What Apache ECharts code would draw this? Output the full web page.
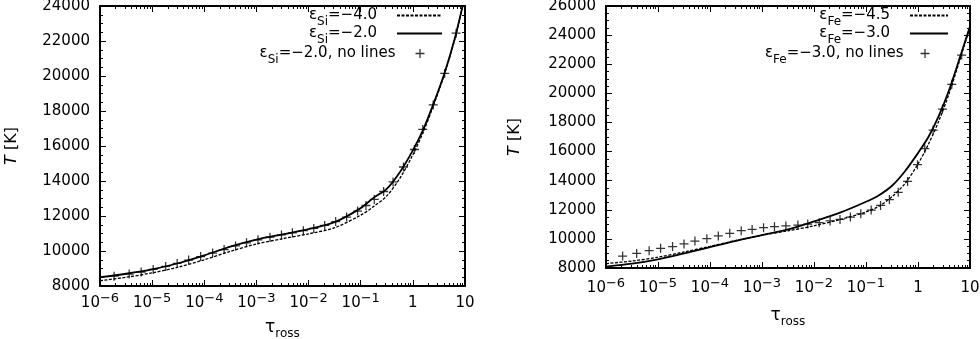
<!DOCTYPE html>
<html>
<head>
    <meta charset="utf-8">
    <title>Temperature structure vs Rosseland optical depth</title>
    <script src="https://cdn.jsdelivr.net/npm/echarts@6/dist/echarts.min.js"></script>
    <style>
        html, body { margin: 0; padding: 0; background: #fff; }
        #main { width: 980px; height: 339px; }
    </style>
</head>
<body>
<div id="main"></div>
<script type="text/javascript">
    // log10(tau_ross) grid of the model curves
    var logTauSi = [-6, -5.5, -5, -4.5, -4, -3.5, -3, -2.5, -2, -1.5, -1, -0.75, -0.5, -0.25, 0, 0.2, 0.4, 0.6, 0.8, 0.97];
    var tSiM40 = [8300, 8500, 8750, 9080, 9500, 9980, 10400, 10700, 10980, 11330, 12050, 12550, 13150, 14150, 15500, 16800, 18350, 20050, 22050, 24200];
    var tSiM20 = [8500, 8700, 8950, 9300, 9750, 10250, 10650, 10950, 11250, 11650, 12450, 13050, 13550, 14500, 15750, 16950, 18450, 20100, 22100, 24200];

    // eps_Si = -2.0 without lines (markers)
    var logTauSiNL = [-5.73, -5.44, -5.21, -4.98, -4.74, -4.52, -4.30, -4.07, -3.84, -3.62, -3.40, -3.19, -2.97, -2.74, -2.52, -2.31, -2.10, -1.90, -1.69, -1.48, -1.27, -1.06, -0.90, -0.74, -0.56, -0.38, -0.18, 0.03, 0.19, 0.39, 0.61, 0.83];
    var tSiNL = [8560, 8680, 8800, 8950, 9120, 9290, 9480, 9680, 9880, 10080, 10290, 10470, 10640, 10790, 10920, 11040, 11160, 11290, 11460, 11680, 11940, 12280, 12600, 12950, 13400, 13950, 14800, 15800, 16950, 18350, 20150, 22450];

    var logTauFe = [-6, -5.5, -5, -4.5, -4, -3.5, -3, -2.5, -2, -1.5, -1, -0.75, -0.5, -0.25, 0, 0.2, 0.4, 0.6, 0.8, 1.0];
    var tFeM45 = [8300, 8480, 8740, 9100, 9490, 9890, 10250, 10550, 10900, 11330, 11850, 12250, 12900, 13800, 15150, 16500, 18100, 20000, 22250, 24550];
    var tFeM30 = [8100, 8300, 8600, 9000, 9440, 9870, 10260, 10650, 11200, 11800, 12550, 13000, 13650, 14650, 15900, 17000, 18450, 20250, 22400, 24600];

    // eps_Fe = -3.0 without lines (markers)
    var logTauFeNL = [-5.68, -5.41, -5.17, -4.95, -4.72, -4.50, -4.29, -4.06, -3.84, -3.62, -3.40, -3.19, -2.97, -2.76, -2.54, -2.31, -2.12, -1.90, -1.69, -1.50, -1.30, -1.10, -0.90, -0.72, -0.55, -0.38, -0.20, -0.01, 0.13, 0.29, 0.47, 0.65, 0.84];
    var tFeNL = [8820, 9000, 9190, 9350, 9470, 9650, 9850, 10010, 10200, 10380, 10560, 10650, 10770, 10840, 10890, 10950, 11020, 11110, 11230, 11340, 11500, 11720, 11980, 12300, 12700, 13200, 13950, 15100, 16200, 17480, 18920, 20620, 22630];

    var legendSi = ['−4.0', '−2.0', '−2.0, no lines'];
    var legendFe = ['−4.5', '−3.0', '−3.0, no lines'];

    function pairs(logs, temps) {
        return logs.map(function (l, i) { return [Math.pow(10, l), temps[i]]; });
    }

    var FONT = 'DejaVu Sans';
    var PLUS = 'path://M4.3,0H5.7V4.3H10V5.7H5.7V10H4.3V5.7H0V4.3H4.3Z';

    var tickLabel = {
        fontFamily: FONT, fontSize: 15, color: '#000',
        rich: {
            m: { fontFamily: FONT, fontSize: 15, lineHeight: 22, color: '#000' },
            s: { fontFamily: FONT, fontSize: 13, lineHeight: 13, verticalAlign: 'top', color: '#000' }
        }
    };

    function xLabel(v) {
        var e = Math.round(Math.log10(v));
        if (e === 0) return '{m|1}';
        if (e === 1) return '{m|10}';
        return '{m|10}{s|−' + (-e) + '}';
    }

    function xAxes(g, nameGap, margin) {
        return [{
            gridIndex: g, type: 'log', logBase: 10, min: 1e-6, max: 10, splitNumber: 7,
            name: '{t|τ}{sub|ross}', nameLocation: 'middle', nameGap: nameGap,
            nameTextStyle: {
                rich: {
                    t: { fontFamily: FONT, fontSize: 17, lineHeight: 24, color: '#000' },
                    sub: { fontFamily: FONT, fontSize: 12, lineHeight: 12, verticalAlign: 'bottom', color: '#000' }
                }
            },
            axisLine: { lineStyle: { color: '#000', width: 2 } },
            axisTick: { inside: true, length: 6, lineStyle: { color: '#000' } },
            minorTick: { show: true, splitNumber: 9, length: 3, lineStyle: { color: '#000' } },
            splitLine: { show: false },
            axisLabel: Object.assign({ formatter: xLabel, margin: margin }, tickLabel)
        }, {
            gridIndex: g, type: 'log', logBase: 10, min: 1e-6, max: 10, splitNumber: 7, position: 'top',
            axisLine: { lineStyle: { color: '#000', width: 2 } },
            axisTick: { inside: true, length: 6, lineStyle: { color: '#000' } },
            minorTick: { show: true, splitNumber: 9, length: 3, lineStyle: { color: '#000' } },
            splitLine: { show: false },
            axisLabel: { show: false }
        }];
    }

    function yAxes(g, max, nameGap) {
        return [{
            gridIndex: g, type: 'value', min: 8000, max: max, interval: 2000,
            name: '{i|T} [K]', nameLocation: 'middle', nameGap: nameGap, nameRotate: 90,
            nameTextStyle: {
                rich: {
                    i: { fontFamily: FONT, fontSize: 16, fontStyle: 'italic', color: '#000' }
                }, fontFamily: FONT, fontSize: 16, color: '#000'
            },
            axisLine: { lineStyle: { color: '#000', width: 2 } },
            axisTick: { inside: true, length: 6, lineStyle: { color: '#000' } },
            minorTick: { show: true, splitNumber: 4, length: 3, lineStyle: { color: '#000' } },
            splitLine: { show: false },
            axisLabel: {
                fontFamily: FONT, fontSize: 15, color: '#000', margin: 10,
                formatter: function (v) { return String(v); }
            }
        }, {
            gridIndex: g, type: 'value', min: 8000, max: max, interval: 2000, position: 'right',
            axisLine: { lineStyle: { color: '#000', width: 2 } },
            axisTick: { inside: true, length: 6, lineStyle: { color: '#000' } },
            minorTick: { show: true, splitNumber: 4, length: 3, lineStyle: { color: '#000' } },
            splitLine: { show: false },
            axisLabel: { show: false }
        }];
    }

    function legendName(el, txt) {
        return '{e|ε}{sub|' + el + '}{t|=' + txt + '}';
    }

    var legendRich = {
        e: { fontFamily: FONT, fontSize: 15, lineHeight: 24, color: '#000' },
        t: { fontFamily: FONT, fontSize: 15, lineHeight: 24, color: '#000' },
        sub: { fontFamily: FONT, fontSize: 12, lineHeight: 12, verticalAlign: 'bottom', color: '#000' }
    };

    // one legend box per entry so the samples line up like the gnuplot key
    function legends(el, texts, rightLine, rightPlus, tops, iconW, plusPad) {
        return texts.map(function (t, i) {
            var isMarker = i === 2;
            return {
                data: [legendName(el, t)],
                right: isMarker ? rightPlus : rightLine, top: tops[i],
                orient: 'vertical', align: 'right',
                itemWidth: isMarker ? 9 : iconW, itemHeight: 9, padding: 0, selectedMode: false,
                itemStyle: isMarker ? { color: '#000' } : { color: 'rgba(0,0,0,0)', borderWidth: 0 },
                textStyle: { rich: legendRich, padding: [0, isMarker ? plusPad : 15, 0, 0] },
                formatter: function (n) { return n; }
            };
        });
    }

    function lineSeries(name, xi, yi, data, dashed) {
        return {
            name: name, type: 'line', xAxisIndex: xi, yAxisIndex: yi, data: data,
            showSymbol: false, symbol: 'none', smooth: 0.3, animation: false,
            itemStyle: { color: '#000' },
            lineStyle: { color: '#000', width: dashed ? 1.3 : 1.8, type: dashed ? [3, 1.5] : 'solid' }
        };
    }

    function markerSeries(name, xi, yi, data) {
        return {
            name: name, type: 'scatter', xAxisIndex: xi, yAxisIndex: yi, data: data,
            symbol: PLUS, symbolSize: 9, animation: false, z: 5,
            itemStyle: { color: '#000' }
        };
    }

    var myChart = echarts.init(document.getElementById('main'));

    var option = {
        backgroundColor: '#fff',
        animation: false,
        grid: [
            { left: 100, top: 6, width: 365, height: 280, outerBoundsMode: 'none' },
            { left: 606, top: 6, width: 364, height: 262, outerBoundsMode: 'none' }
        ],
        xAxis: xAxes(0, 30, 6).concat(xAxes(1, 36, 9)),
        yAxis: yAxes(0, 24000, 80).concat(yAxes(1, 26000, 83)),
        legend: legends('Si', legendSi, 537, 555.5, [8, 26, 46], 45, 15)
            .concat(legends('Fe', legendFe, 31, 50.5, [8, 26, 46], 38, 12)),
        series: [
            lineSeries(legendName('Si', legendSi[0]), 0, 0, pairs(logTauSi, tSiM40), true),
            lineSeries(legendName('Si', legendSi[1]), 0, 0, pairs(logTauSi, tSiM20), false),
            markerSeries(legendName('Si', legendSi[2]), 0, 0, pairs(logTauSiNL, tSiNL)),
            lineSeries(legendName('Fe', legendFe[0]), 2, 2, pairs(logTauFe, tFeM45), true),
            lineSeries(legendName('Fe', legendFe[1]), 2, 2, pairs(logTauFe, tFeM30), false),
            markerSeries(legendName('Fe', legendFe[2]), 2, 2, pairs(logTauFeNL, tFeNL))
        ]
    };

    myChart.setOption(option);
</script>
</body>
</html>
